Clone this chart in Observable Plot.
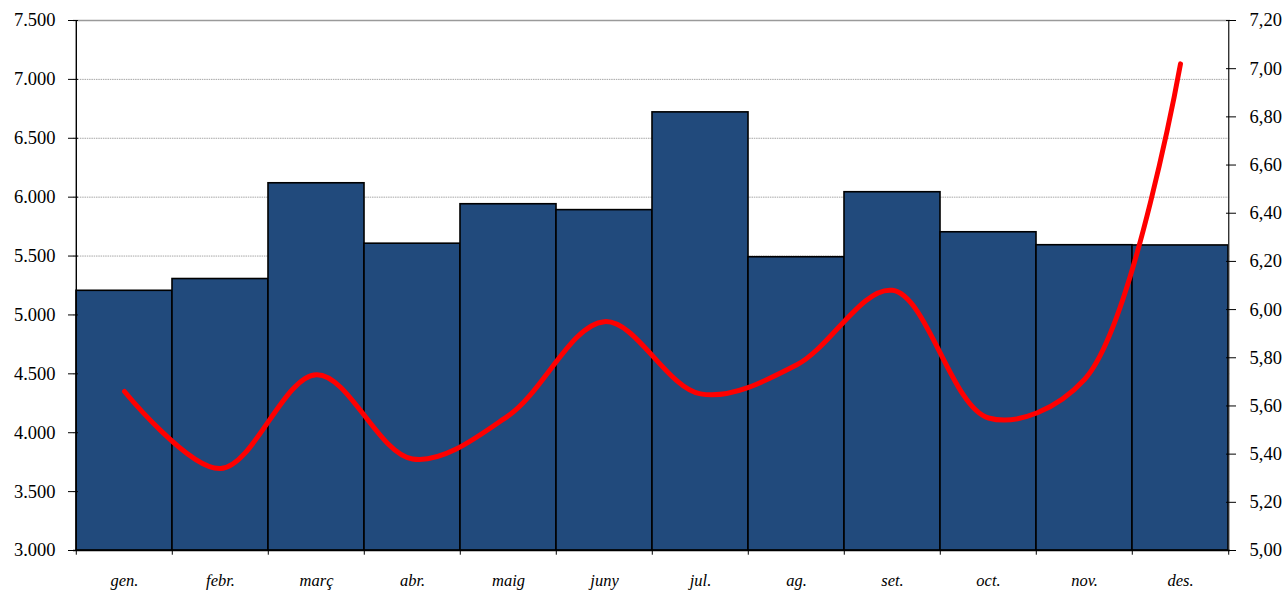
<!DOCTYPE html>
<html>
<head>
<meta charset="utf-8">
<script src="https://cdn.jsdelivr.net/npm/d3@7"></script>
<script src="https://cdn.jsdelivr.net/npm/@observablehq/plot@0.6"></script>
<style>
  html, body { margin: 0; padding: 0; background: white; }
  #chart svg { display: block; }
  #chart svg, #chart svg text { font-family: "Liberation Serif", "Times New Roman", serif !important; }
</style>
</head>
<body>
<div id="chart"></div>
<script>
const months = ["gen.", "febr.", "març", "abr.", "maig", "juny", "jul.", "ag.", "set.", "oct.", "nov.", "des."];
const barValues = [5205, 5305, 6118, 5605, 5940, 5890, 6720, 5490, 6042, 5702, 5592, 5590];
const lineValues = [5.66, 5.34, 5.73, 5.38, 5.56, 5.95, 5.65, 5.77, 6.08, 5.55, 5.71, 7.02];
const leftTicks = [3000, 3500, 4000, 4500, 5000, 5500, 6000, 6500, 7000, 7500];
const rightTicks = [5.0, 5.2, 5.4, 5.6, 5.8, 6.0, 6.2, 6.4, 6.6, 6.8, 7.0, 7.2];

const leftDomain = [3000, 7500];
const rightDomain = [5.0, 7.2];
const toLeft = v => leftDomain[0] + (v - rightDomain[0]) / (rightDomain[1] - rightDomain[0]) * (leftDomain[1] - leftDomain[0]);
const fromLeft = y => rightDomain[0] + (y - leftDomain[0]) / (leftDomain[1] - leftDomain[0]) * (rightDomain[1] - rightDomain[0]);

const data = months.map((m, i) => ({month: m, bar: barValues[i], rate: lineValues[i]}));

const W = 1286, H = 591, mL = 73, mR = 56, mT = 20, mB = 41;
const half = (W - mL - mR) / months.length / 2;

const chart = Plot.plot({
  width: W,
  height: H,
  marginLeft: mL,
  marginRight: mR,
  marginTop: mT,
  marginBottom: mB,
  style: {fontFamily: "'Liberation Serif', 'Times New Roman', serif", fontSize: "18.5px", background: "white", color: "black"},
  x: {domain: months, padding: 0, label: null, axis: null},
  y: {domain: leftDomain, label: null, axis: null},
  marks: [
    Plot.ruleY(leftTicks.slice(1, -1), {stroke: "#a6a6a6", strokeWidth: 1, strokeDasharray: "1.5,0.8"}),
    Plot.barY(data, {x: "month", y1: leftDomain[0], y2: "bar", fill: "#214a7c", stroke: "black", strokeWidth: 1.6}),
    Plot.line(data, {x: "month", y: d => toLeft(d.rate), stroke: "#ff0000", strokeWidth: 5, curve: "catmull-rom", strokeLinecap: "round", strokeLinejoin: "round"}),
    Plot.ruleY([leftDomain[1]], {stroke: "#9a9a9a", strokeWidth: 1.6}),
    Plot.ruleX([months[0]], {dx: -half, y1: leftDomain[0], y2: leftDomain[1], stroke: "black", strokeWidth: 1.4}),
    Plot.ruleX([months[months.length - 1]], {dx: half, y1: leftDomain[0], y2: leftDomain[1], stroke: "#333", strokeWidth: 1.4}),
    Plot.ruleY([leftDomain[0]], {stroke: "black", strokeWidth: 1.4}),
    Plot.ruleX(months, {dx: -half, y1: leftDomain[0], y2: leftDomain[0] - 40, stroke: "black", strokeWidth: 1}),
    Plot.ruleX([months[months.length - 1]], {dx: half, y1: leftDomain[0], y2: leftDomain[0] - 40, stroke: "black", strokeWidth: 1}),
    Plot.axisY(leftTicks, {anchor: "left", tickSize: 10, dx: 5, tickPadding: 13, label: null, fontSize: 18.5,
      tickFormat: d => d3.format(",")(d).replace(/,/g, ".")}),
    Plot.axisY(rightTicks.map(toLeft), {anchor: "right", tickSize: 10, dx: -5, tickPadding: 14, label: null, fontSize: 18.5,
      tickFormat: d => fromLeft(d).toFixed(2).replace(".", ",")}),
    Plot.axisX({anchor: "bottom", tickSize: 0, tickPadding: 24, label: null, fontStyle: "italic", fontSize: 16.5})
  ]
});
document.getElementById("chart").appendChild(chart);
</script>
</body>
</html>
